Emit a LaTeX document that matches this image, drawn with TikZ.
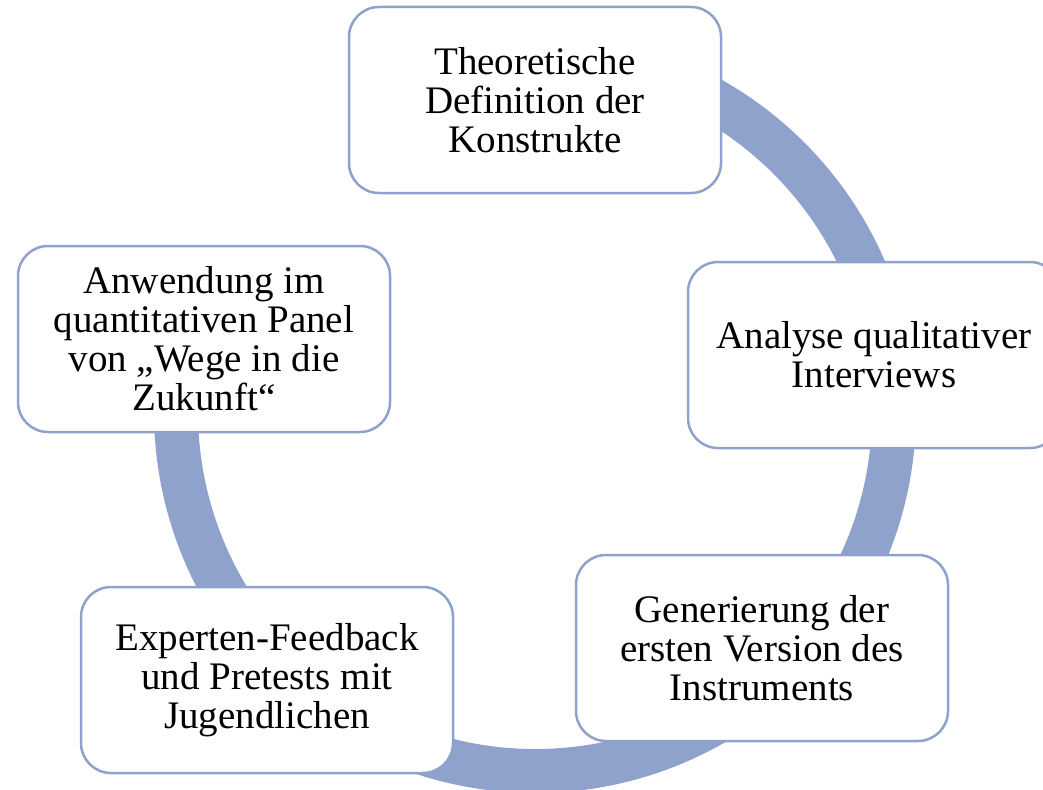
\documentclass[tikz,border=0pt]{standalone}
\usepackage{fontspec}
\setmainfont{Liberation Serif}
\definecolor{cycblue}{RGB}{143,162,203}

\begin{document}
\begin{tikzpicture}[
  x=1pt, y=-1pt, font=\fontsize{39}{39}\selectfont,
  ring/.style={draw=cycblue,line width=44pt},
  box/.style={rectangle,draw=cycblue,line width=2.5pt,rounded corners=30pt,fill=white,align=center,minimum width=372pt,minimum height=186pt,inner sep=0pt}]
\useasboundingbox (0,0) rectangle (1043,789);
\clip (0,0) rectangle (1043,789);
\coordinate (mid) at (535,412);
% open ring: runs clockwise from the top box round to the left box
\draw[ring] (mid) ++(90:359pt) arc[start angle=90,end angle=-200,radius=359pt];
\node[box] (theo) at (535,100) {Theoretische\\Definition der\\Konstrukte};
\node[box] (anal) at (874,355) {Analyse qualitativer\\Interviews};
\node[box] (gen) at (762,648) {Generierung der\\ersten Version des\\Instruments};
\node[box] (exp) at (267,680) {Experten-Feedback\\und Pretests mit\\Jugendlichen};
\node[box] (anw) at (204,339) {Anwendung im\\quantitativen Panel\\von „Wege in die\\Zukunft“};
\end{tikzpicture}
\end{document}
